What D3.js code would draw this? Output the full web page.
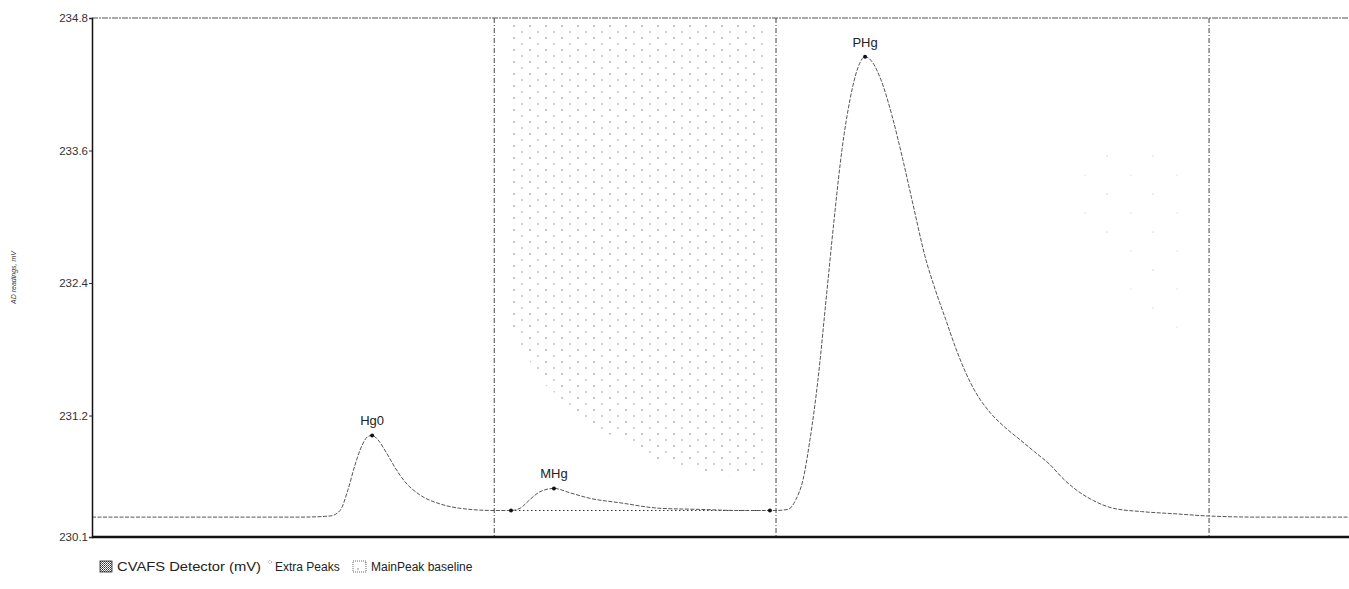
<!DOCTYPE html>
<html>
<head>
<meta charset="utf-8">
<script src="https://cdn.jsdelivr.net/npm/d3@7"></script>
<style>
  html, body { margin: 0; padding: 0; background: #fff; }
  svg { display: block; font-family: "Liberation Sans", Arial, sans-serif; }
</style>
</head>
<body>
<svg id="chart" width="1349" height="589"></svg>
<script>
// Retention time (s) and CVAFS detector signal (mV)
const timeSec = [0, 51.6, 99.3, 113.6, 118.4, 122.2, 125.5, 128.9, 131.7, 133.7, 136.5, 140.3, 144.6,
  149.4, 156.6, 166.1, 175.7, 191.9, 200.0, 204.3, 209.1, 213.8, 220.5, 228.2, 237.7, 252.0, 271.1,
  290.2, 309.3, 326.5, 332.2, 336.0, 339.4, 342.7, 346.5, 350.4, 354.2, 358.0, 361.8, 365.6, 369.0,
  372.5, 376.6, 381.8, 387.0, 392.5, 397.5, 402.5, 407.5, 412.3, 417.0, 421.8, 429.0, 436.0, 443.0,
  450.0, 457.0, 464.0, 471.0, 478.0, 487.5, 501.0, 517.0, 533.2, 557.5, 600];
const signalMv = [230.28, 230.28, 230.28, 230.29, 230.34, 230.53, 230.75, 230.93, 231.01, 231.02, 230.98, 230.87, 230.73,
  230.60, 230.48, 230.40, 230.36, 230.34, 230.34, 230.36, 230.44, 230.51, 230.54, 230.50, 230.45, 230.41, 230.36,
  230.35, 230.34, 230.34, 230.35, 230.44, 230.62, 230.98, 231.52, 232.25, 232.97, 233.61, 234.06, 234.35, 234.45,
  234.40, 234.24, 233.92, 233.52, 233.06, 232.65, 232.34, 232.07, 231.81, 231.59, 231.41, 231.22, 231.09, 230.98,
  230.87, 230.76, 230.62, 230.51, 230.43, 230.36, 230.33, 230.31, 230.29, 230.28, 230.28];

// Integrated peaks
const peakNames = ["Hg0", "MHg", "PHg"];
const peakTimes = [133.7, 220.5, 369.0];
const peakValues = [231.02, 230.54, 234.45];

// Main peak baseline (start / end)
const baselineTimes = [200.0, 323.6];
const baselineValues = [230.34, 230.34];

// Integration window limits (s)
const windowTimes = [192.0, 326.5, 533.2];

// Extra-peaks shaded zone outline (time, mV)
const extraZoneTimes = [201, 323, 323, 300, 270, 240, 215, 201];
const extraZoneValues = [234.75, 234.75, 230.70, 230.65, 230.80, 231.10, 231.50, 231.95];

// Faint secondary zone (time, mV)
const faintZoneTimes = [472, 526, 526, 505, 472];
const faintZoneValues = [233.7, 233.7, 232.0, 231.9, 233.0];

// Y axis ticks
const yTicks = [230.1, 231.2, 232.4, 233.6, 234.8];

const legendItems = ["CVAFS Detector (mV)", "Extra Peaks", "MainPeak baseline"];

const svg = d3.select("#chart");
const margin = { left: 92, right: 0, top: 18, bottom: 52 };
const W = 1349, H = 589;

const x = d3.scaleLinear().domain([0, 600]).range([margin.left, W - margin.right]);
const y = d3.scaleLinear().domain([230.1, 234.8]).range([H - margin.bottom, margin.top]);

// Stipple patterns
const defs = svg.append("defs");
const pat = defs.append("pattern").attr("id", "stipple")
  .attr("patternUnits", "userSpaceOnUse").attr("width", 16).attr("height", 12);
pat.append("circle").attr("cx", 2).attr("cy", 2).attr("r", 0.8).attr("fill", "#777");
pat.append("circle").attr("cx", 10).attr("cy", 8).attr("r", 0.8).attr("fill", "#999");

const faint = defs.append("pattern").attr("id", "faint")
  .attr("patternUnits", "userSpaceOnUse").attr("width", 46).attr("height", 38);
faint.append("circle").attr("cx", 3).attr("cy", 4).attr("r", 0.6).attr("fill", "#aaa");
faint.append("circle").attr("cx", 27).attr("cy", 23).attr("r", 0.6).attr("fill", "#bbb");

const legPat = defs.append("pattern").attr("id", "hatch")
  .attr("patternUnits", "userSpaceOnUse").attr("width", 2).attr("height", 2);
legPat.append("rect").attr("width", 1).attr("height", 1).attr("fill", "#333");
legPat.append("rect").attr("x", 1).attr("y", 1).attr("width", 1).attr("height", 1).attr("fill", "#666");

const zoneLine = d3.line().x(d => x(d[0])).y(d => y(d[1])).curve(d3.curveLinearClosed);
svg.append("path")
  .datum(extraZoneTimes.map((t, i) => [t, extraZoneValues[i]]))
  .attr("d", zoneLine).attr("fill", "url(#stipple)").attr("stroke", "none");
svg.append("path")
  .datum(faintZoneTimes.map((t, i) => [t, faintZoneValues[i]]))
  .attr("d", zoneLine).attr("fill", "url(#faint)").attr("stroke", "none");

// Top frame line (dashed)
svg.append("line")
  .attr("x1", x(0)).attr("x2", x(600)).attr("y1", y(234.8)).attr("y2", y(234.8))
  .attr("stroke", "#555").attr("stroke-width", 1).attr("stroke-dasharray", "6,1,2,1");

// Window limits
svg.append("g").selectAll("line").data(windowTimes).join("line")
  .attr("x1", d => x(d)).attr("x2", d => x(d))
  .attr("y1", y(234.8)).attr("y2", y(230.1))
  .attr("stroke", "#444").attr("stroke-width", 1).attr("stroke-dasharray", "5,2,1,2");

// Main peak baseline
svg.append("path")
  .datum(baselineTimes.map((t, i) => [t, baselineValues[i]]))
  .attr("d", d3.line().x(d => x(d[0])).y(d => y(d[1])))
  .attr("stroke", "#333").attr("stroke-width", 1).attr("stroke-dasharray", "1.5,2.5")
  .attr("fill", "none");

// Signal trace
svg.append("path")
  .datum(timeSec.map((t, i) => [t, signalMv[i]]))
  .attr("d", d3.line().x(d => x(d[0])).y(d => y(d[1])).curve(d3.curveMonotoneX))
  .attr("stroke", "#555").attr("stroke-width", 1).attr("stroke-dasharray", "4,1.5")
  .attr("fill", "none");

// Markers: peak apices and baseline ends
const markers = peakTimes.map((t, i) => [t, peakValues[i]])
  .concat(baselineTimes.map((t, i) => [t, baselineValues[i]]));
svg.append("g").selectAll("circle").data(markers).join("circle")
  .attr("cx", d => x(d[0])).attr("cy", d => y(d[1])).attr("r", 2)
  .attr("fill", "#111");

// Peak names
svg.append("g").selectAll("text").data(peakNames).join("text")
  .attr("x", (d, i) => x(peakTimes[i]))
  .attr("y", (d, i) => y(peakValues[i]) - 10)
  .attr("text-anchor", "middle")
  .attr("font-size", 13).attr("fill", "#222")
  .text(d => d);

// Axes
const yAxis = svg.append("g").attr("transform", `translate(${margin.left},0)`)
  .call(d3.axisLeft(y).tickValues(yTicks).tickSize(3).tickPadding(1).tickFormat(d3.format(".1f")));
yAxis.select(".domain").attr("stroke", "#111").attr("stroke-width", 1.5);
yAxis.selectAll(".tick line").attr("stroke", "#333");
yAxis.selectAll("text").attr("font-size", 11.5).attr("fill", "#333")
  .attr("font-family", "'Liberation Sans', Arial, sans-serif");

svg.append("line")
  .attr("x1", x(0)).attr("x2", x(600)).attr("y1", y(230.1)).attr("y2", y(230.1))
  .attr("stroke", "#111").attr("stroke-width", 2.5);

// Y axis title
svg.append("text")
  .attr("transform", `translate(16,${(y(230.1) + y(234.8)) / 2}) rotate(-90)`)
  .attr("text-anchor", "middle").attr("font-size", 7).attr("font-style", "italic")
  .attr("fill", "#333")
  .text("AD readings, mV");

// Legend
const lg = svg.append("g").attr("transform", "translate(100,567)");
lg.append("rect").attr("x", 0).attr("y", -6).attr("width", 12).attr("height", 11)
  .attr("fill", "url(#hatch)").attr("stroke", "#222").attr("stroke-width", 0.8);
lg.append("text").attr("x", 17).attr("y", 4).attr("font-size", 12.5).attr("fill", "#222")
  .attr("textLength", 144).attr("lengthAdjust", "spacingAndGlyphs").text(legendItems[0]);
lg.append("circle").attr("cx", 170).attr("cy", -5).attr("r", 1.6)
  .attr("fill", "none").attr("stroke", "#666").attr("stroke-width", 0.6).attr("stroke-dasharray", "1,1");
lg.append("text").attr("x", 175).attr("y", 4).attr("font-size", 12).attr("fill", "#222").text(legendItems[1]);
lg.append("rect").attr("x", 253).attr("y", -6).attr("width", 13).attr("height", 11)
  .attr("fill", "url(#stipple)").attr("stroke", "#444").attr("stroke-width", 0.8)
  .attr("stroke-dasharray", "1,1");
lg.append("text").attr("x", 271).attr("y", 4).attr("font-size", 12).attr("fill", "#222").text(legendItems[2]);
</script>
</body>
</html>
